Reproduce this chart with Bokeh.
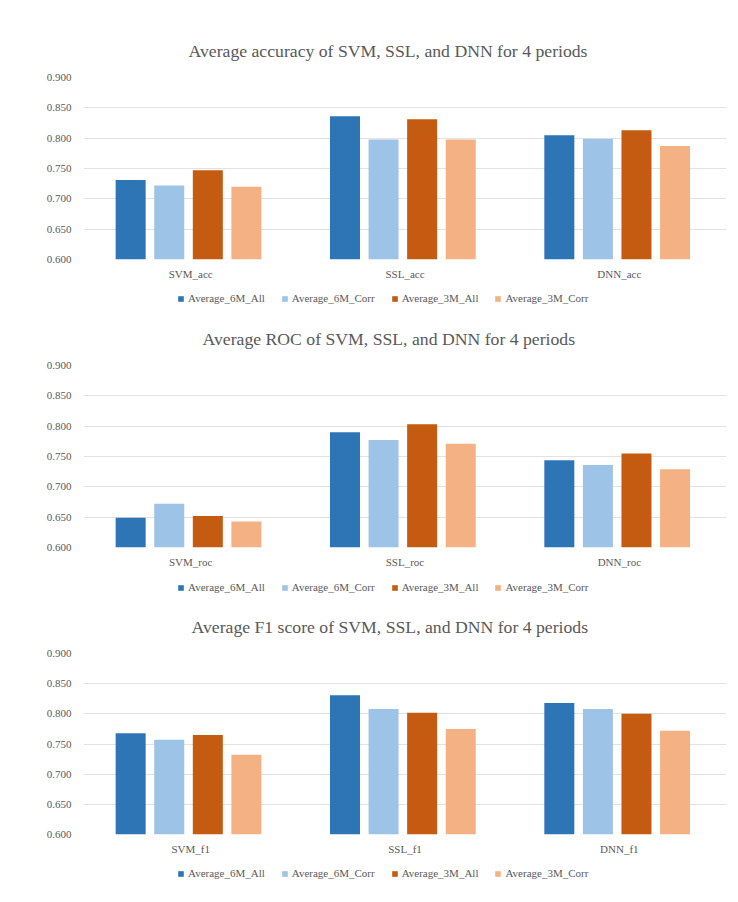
from bokeh.plotting import figure
from bokeh.layouts import column
from bokeh.models import (FactorRange, Range1d, FixedTicker, NumeralTickFormatter,
                          Legend, LegendItem, Title, ColumnDataSource)
from bokeh.transform import dodge
from bokeh.embed import file_html
from bokeh.resources import INLINE

series = ["Average_6M_All", "Average_6M_Corr", "Average_3M_All", "Average_3M_Corr"]
colors = ["#2E75B6", "#9DC3E6", "#C55A11", "#F4B183"]
y_ticks = [0.60, 0.65, 0.70, 0.75, 0.80, 0.85, 0.90]

acc_title = "Average accuracy of SVM, SSL, and DNN for 4 periods"
acc_cats = ["SVM_acc", "SSL_acc", "DNN_acc"]
acc_6m_all = [0.731, 0.836, 0.805]
acc_6m_corr = [0.722, 0.798, 0.799]
acc_3m_all = [0.747, 0.831, 0.813]
acc_3m_corr = [0.720, 0.798, 0.787]

roc_title = "Average ROC of SVM, SSL, and DNN for 4 periods"
roc_cats = ["SVM_roc", "SSL_roc", "DNN_roc"]
roc_6m_all = [0.649, 0.790, 0.744]
roc_6m_corr = [0.672, 0.777, 0.736]
roc_3m_all = [0.652, 0.803, 0.755]
roc_3m_corr = [0.643, 0.771, 0.729]

f1_title = "Average F1 score of SVM, SSL, and DNN for 4 periods"
f1_cats = ["SVM_f1", "SSL_f1", "DNN_f1"]
f1_6m_all = [0.768, 0.831, 0.818]
f1_6m_corr = [0.757, 0.808, 0.808]
f1_3m_all = [0.765, 0.802, 0.800]
f1_3m_corr = [0.732, 0.775, 0.772]

FONT = "Liberation Serif"
GREY = "#595959"
OFFSETS = [-0.28, -0.10, 0.08, 0.26]


def make_source(cats, vals):
    data = {"cat": cats}
    for s, v in zip(series, vals):
        data[s] = v
    return ColumnDataSource(data)


def make_chart(title, title_shift, cats, src, height, top_border, bottom_border):
    p = figure(x_range=FactorRange(factors=cats, range_padding=0),
               y_range=Range1d(0.6, 0.9),
               width=730, height=height,
               min_border_left=83, min_border_right=4,
               min_border_top=top_border, min_border_bottom=bottom_border,
               output_backend="svg", toolbar_location=None)
    p.add_layout(Title(text=title, text_font=FONT, text_font_size="17.7px",
                       text_color=GREY, text_font_style="normal",
                       align="left", offset=title_shift, standoff=33), "above")
    p.outline_line_color = None
    p.xgrid.grid_line_color = None
    p.ygrid.grid_line_color = "#e2e2e2"
    p.ygrid.grid_line_width = 1
    p.yaxis.ticker = FixedTicker(ticks=y_ticks)
    p.yaxis.formatter = NumeralTickFormatter(format="0.000")
    for ax in (p.xaxis, p.yaxis):
        ax.axis_line_color = None
        ax.major_tick_line_color = None
        ax.minor_tick_line_color = None
        ax.major_label_text_font = FONT
        ax.major_label_text_color = GREY
    p.yaxis.major_label_text_font_size = "11px"
    p.yaxis.major_label_standoff = 6
    p.xaxis.major_label_text_font_size = "11px"
    p.xaxis.major_label_standoff = 2

    for s, c, off in zip(series, colors, OFFSETS):
        p.vbar(x=dodge("cat", off, range=p.x_range), top=s, bottom=0.6,
               width=0.14, source=src, fill_color=c, line_color=None)
    return p


def make_legend_strip(cats, src, height, y_pos):
    # legend strip: hidden copies of the bars provide the legend swatches
    s = figure(x_range=FactorRange(factors=cats, range_padding=0),
               y_range=Range1d(0.6, 0.9),
               width=730, height=height,
               min_border_left=83, min_border_right=4,
               min_border_top=0, min_border_bottom=0,
               x_axis_location=None, y_axis_location=None,
               output_backend="svg", toolbar_location=None)
    s.outline_line_color = None
    s.grid.grid_line_color = None
    items = []
    for name, c, off in zip(series, colors, OFFSETS):
        r = s.vbar(x=dodge("cat", off, range=s.x_range), top=name, bottom=0.6,
                   width=0.14, source=src, fill_color=c, line_color=None)
        r.visible = False
        items.append(LegendItem(label=name, renderers=[r]))
    leg = Legend(items=items, orientation="horizontal", location=(94, y_pos),
                 label_text_font=FONT, label_text_font_size="11px",
                 label_text_color=GREY, glyph_width=7, glyph_height=7,
                 label_standoff=4, spacing=16, padding=2, margin=0,
                 inactive_fill_alpha=0,
                 border_line_color=None, background_fill_alpha=0)
    s.add_layout(leg, "center")
    return s


src1 = make_source(acc_cats, [acc_6m_all, acc_6m_corr, acc_3m_all, acc_3m_corr])
src2 = make_source(roc_cats, [roc_6m_all, roc_6m_corr, roc_3m_all, roc_3m_corr])
src3 = make_source(f1_cats, [f1_6m_all, f1_6m_corr, f1_3m_all, f1_3m_corr])

p1 = make_chart(acc_title, 105, acc_cats, src1, 286, 77, 27)
l1 = make_legend_strip(acc_cats, src1, 24, 6)
p2 = make_chart(roc_title, 119, roc_cats, src2, 264, 54, 27)
l2 = make_legend_strip(roc_cats, src2, 24, 5)
p3 = make_chart(f1_title, 108, f1_cats, src3, 264, 54, 28)
l3 = make_legend_strip(f1_cats, src3, 28, 11)

layout = column(p1, l1, p2, l2, p3, l3, spacing=0)
open("out.html", "w").write(file_html(layout, INLINE))
